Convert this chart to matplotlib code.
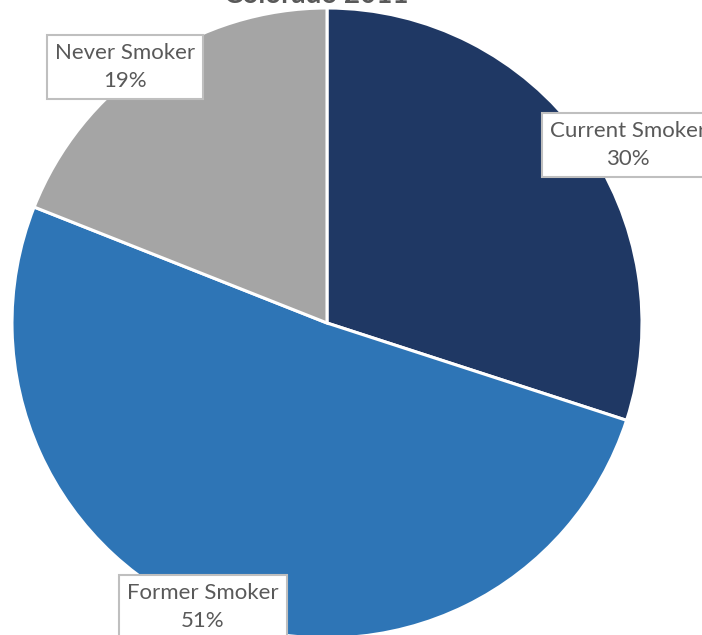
import matplotlib.pyplot as plt

# smoking status shares
labels = ["Current Smoker", "Former Smoker", "Never Smoker"]
shares = [30, 51, 19]
colors = ["#1F3864", "#2E75B6", "#A5A5A5"]

plt.rcParams["font.family"] = ["Lato", "DejaVu Sans"]

fig = plt.figure(figsize=(7.02, 6.35), dpi=100)
ax = fig.add_axes([0, 0, 1, 1])

wedges, _ = ax.pie(shares, colors=colors, startangle=90, counterclock=False,
                   center=(327, 312), radius=315, frame=True,
                   wedgeprops=dict(edgecolor="white", linewidth=2.2))
ax.set_xlim(0, 702)
ax.set_ylim(0, 635)
ax.axis("off")

# title sits mostly above the visible area
ax.text(316, 632, "Colorado 2011", ha="center", va="baseline", fontsize=20,
        fontweight="bold", color="#595959", clip_on=False)

label_pos = {"Current Smoker": (628, 490), "Former Smoker": (203, 28),
             "Never Smoker": (125, 568)}
box = dict(boxstyle="square,pad=0.35", fc="white", ec="#BFBFBF", lw=1.5)
for lab, val in zip(labels, shares):
    x, y = label_pos[lab]
    ax.text(x, y, f"{lab}\n{val}%", ha="center", va="center", fontsize=16,
            color="#595959", linespacing=1.5, bbox=box)

fig.savefig("out.png", dpi=100)
